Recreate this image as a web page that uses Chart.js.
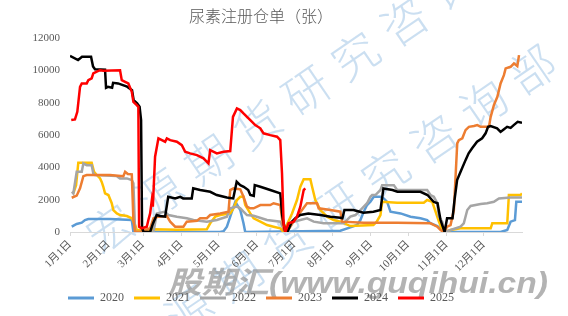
<!DOCTYPE html>
<html>
<head>
<meta charset="utf-8">
<script src="https://cdn.jsdelivr.net/npm/chart.js@4/dist/chart.umd.min.js"></script>
<style>
html,body{margin:0;padding:0;background:#fff;}
canvas{display:block;}
</style>
</head>
<body>
<canvas id="c" width="568" height="316"></canvas>
<script>
// ---- data (day of year, value) ----
const monthDays = [0, 31, 59, 90, 120, 151, 181, 212, 243, 273, 304, 334];
const monthLabels = ['1月1日','2月1日','3月1日','4月1日','5月1日','6月1日','7月1日','8月1日','9月1日','10月1日','11月1日','12月1日'];
const yTicks = [0, 2000, 4000, 6000, 8000, 10000, 12000];
const seriesNames = ['2020','2021','2022','2023','2024','2025'];

const d2020 = [1.4,5.4,9.5,12.1,14.8,32.3,49.9,51.2,121.3,124,126.7,129.4,132.1,133.5,137.5,140.1,141.5,218.3,226.4,231.8,234.5,237.2,239.9,242.6,245.3,250.7,253.4,256.1,258.8,266.9,275,283,288.4,291.1,296.6,299.2,301.9,347.7,353.1,355.8,359.3,360.4,365];
const v2020 = [330,500,580,740,800,800,740,0,0,50,330,950,1570,1870,1360,540,0,80,290,430,740,1260,1670,1870,2180,2180,2080,1870,1260,1150,950,850,740,540,370,200,0,0,120,640,740,1870,1870];

const d2021 = [2.7,4.9,6.7,17.5,19.4,21.6,24.3,25.6,26.9,28.3,31,33.7,35,37.8,40.4,45.9,49.9,52.6,53.9,62,67.4,86.3,110.5,113.2,117.3,121.3,129.4,132.1,134.8,137.5,140.1,141.5,145.6,148.3,153.7,159.1,164.4,169.8,172.5,179.3,183.3,186,188.7,194.1,195.5,198.1,202.2,207.6,212.9,218.3,226.4,245,247.7,250.7,252.1,264.2,285.7,288.4,292.5,295.2,297.9,300.6,301.9,307.3,315.4,339.7,341,353.1,354.4,363.9,365];
const v2021 = [2390,2900,4290,4290,3730,3530,3320,3100,2800,2390,2290,1780,1360,1150,1050,990,850,430,120,120,170,140,170,540,950,1050,1150,1470,1980,2180,2180,1670,1150,850,640,430,330,230,0,1150,1980,2800,3260,3260,2800,1980,1360,950,740,640,370,430,640,1050,1870,1810,1810,1980,1870,1260,640,120,0,120,230,230,540,540,2290,2290,2390];

const d2022 = [1.6,2.7,5.4,9.5,10.8,13.5,17.5,18.8,20.2,37.8,40.4,45.9,49.9,51.2,52.6,67.4,70.1,76.8,79.5,86.3,94.3,99.7,110.5,118.6,126.7,129.4,134.8,137.5,140.1,142.9,148.3,159.1,169.8,172.5,175.2,180.6,186,191.4,196.8,204.8,221,226.4,230.5,235.9,239.9,242.6,244,246.6,250.7,252.1,261.5,264.2,283,288.4,291.1,293.8,296.6,297.9,300.6,302.5,307.3,315.4,318,320.8,323.5,331.6,336.9,342.3,346.4,355.8,365];
const v2022 = [2500,2390,3730,3730,4250,4140,4140,3630,3530,3460,3320,3320,3220,3010,0,0,1150,1260,1050,950,850,740,640,740,950,1470,1570,1470,1260,1050,1000,740,640,200,0,640,740,850,640,540,540,950,1050,1470,1780,2180,2290,2290,2600,2900,2900,2600,2600,2600,2290,2180,1780,950,640,0,120,330,540,1360,1610,1730,1780,1870,2080,2140,2140];

const d2023 = [1.4,5.4,8.1,10.8,13.5,32.3,43.1,44.5,46.7,49.9,51.2,52.6,56.6,64.7,67.4,71.4,78.2,80.9,84.9,91.6,94.3,102.5,105.1,110.5,113.2,121.3,128,129.4,132.1,137.5,140.1,142.9,145.6,148.3,153.7,161.7,164.4,169.8,172.5,175.2,179.3,183.3,191.4,199.5,200.8,210.3,218.3,219.7,237.2,264.2,291.1,296.6,299.2,301.9,304.6,307.3,310,312.7,314,316.8,319.4,322.1,326.2,328.9,331.6,338.3,339.7,342.3,345.1,347.7,350.4,351.8,355.8,358.5,361.2,362.6];
const v2023 = [2120,2250,2700,3460,3530,3530,3460,3730,3590,3570,740,0,0,230,850,950,990,640,330,330,640,700,850,850,1050,1150,1260,2600,2700,2640,2180,1570,1470,1470,1670,1670,1780,1670,120,0,540,950,1780,1780,1470,1360,1260,640,580,580,540,330,120,0,330,430,1360,5490,5690,5800,6310,6510,6560,6620,6510,6510,7130,7860,8370,9200,9710,10130,10230,10440,10270,10950];

const d2024 = [0,6.5,9.7,17,18.6,20.2,28.3,29.1,30.7,34,34.8,38.8,46.1,50.1,51.4,54.2,56.2,57.4,58.2,59.4,64.7,67.1,70,72.8,76.8,79.3,84.9,89,91.4,98.3,99.5,105.1,113.2,118.5,126.6,131.8,134.6,137.5,140.3,143.9,145.6,148.4,149.2,153.7,161.7,169.8,171.4,173.8,175.5,179.1,182,186,192.5,202.2,210.3,218.3,220,221.6,228.9,236.9,245,250.7,253.1,260.4,264.4,283,288.7,293.6,296.8,299.2,302.5,304.5,308.9,310.5,312.6,315.4,319.4,321.9,324.7,328.7,332.8,335.6,337.6,339.7,344.9,347.7,350.2,353,355.8,358.3,361.5,365];
const v2024 = [10900,10650,10850,10850,10250,10080,10050,8930,8990,8930,9240,9200,9000,8780,8160,7960,7750,6930,250,0,0,550,1050,990,950,2180,2080,2180,2080,2080,2700,2600,2490,2290,2140,2080,3110,2900,2800,2600,2290,2230,2900,2800,2600,2390,1000,0,0,640,850,1050,1150,1050,950,880,850,1360,1360,1190,1260,1360,2700,2600,2490,2490,2290,1870,1780,740,0,850,850,1980,3220,3730,4450,4870,5180,5590,5800,6110,6510,6560,6420,6200,6350,6510,6450,6620,6820,6760];

const d2025 = [1,4,5.9,8.1,9.5,13.5,14.8,17.5,18.8,21.6,24.3,26.9,40.4,41.8,44.5,47.1,49.9,51.2,53.9,55.2,55.8,58,62,63.3,64.7,66.1,66.9,68.7,71.4,74.2,76.8,78.2,80.9,86.3,90.3,93,97,102.5,107.8,111.8,113.2,118.6,124,129.4,131.6,134.8,137.5,140.1,145.6,149.6,153.7,156.3,161.7,167.2,169.8,171.2,172.5,173.9,176.5,180.6,183.3,186,188.7,190];
const v2025 = [6930,6970,7440,8990,9200,9200,9400,9510,9820,9930,10020,9990,10020,9400,9300,9200,8680,8060,7860,7750,330,230,330,740,1150,1980,1570,4660,5800,5690,5590,5800,5690,5590,5380,4970,4870,4760,4560,4250,5070,4870,4970,5010,7130,7650,7550,7340,6930,6620,6420,6110,6000,5900,5690,3630,540,0,540,640,950,1570,2600,2700];

const seriesDays = [d2020, d2021, d2022, d2023, d2024, d2025];
const seriesVals = [v2020, v2021, v2022, v2023, v2024, v2025];
const colors = ['#5B9BD5', '#FFC000', '#A5A5A5', '#ED7D31', '#000000', '#FF0000'];

const SERIF = "'Liberation Serif', 'Times New Roman', 'DejaVu Serif', serif";

const datasets = seriesNames.map((name, i) => ({
  label: name,
  data: seriesDays[i].map((d, k) => ({x: d, y: seriesVals[i][k]})),
  borderColor: colors[i],
  backgroundColor: colors[i],
  borderWidth: 2.5,
  pointRadius: 0,
  tension: 0,
  order: seriesNames.length - i
}));

const watermark = {
  id: 'watermark',
  beforeDraw(chart) {
    const ctx = chart.ctx;
    ctx.save();
    // blue diagonal watermark
    ctx.fillStyle = 'rgba(160,196,230,0.55)';
    ctx.font = "300 46px 'Noto Sans CJK SC'";
    ctx.textAlign = 'center';
    ctx.textBaseline = 'middle';
    const wmText = '宏源期货研究咨询部';
    const lines = [[110, 228], [140, 345]];
    lines.forEach(([sx, sy]) => {
      for (let k = 0; k < wmText.length; k++) {
        ctx.save();
        ctx.translate(sx + k * 49, sy - k * 34.5);
        ctx.rotate(-0.6);
        ctx.fillText(wmText[k], 0, 0);
        ctx.restore();
      }
    });
    // gray watermark
    ctx.fillStyle = 'rgba(150,150,150,0.72)';
    ctx.font = "italic bold 30px 'Liberation Sans', 'Noto Sans CJK SC'";
    ctx.textAlign = 'left';
    ctx.textBaseline = 'alphabetic';
    const gt = '股期汇(www.guqihui.cn)';
    const w = ctx.measureText(gt).width;
    ctx.translate(168, 293);
    ctx.scale(380 / w, 1);
    ctx.fillText(gt, 0, 0);
    ctx.restore();
  }
};

new Chart(document.getElementById('c'), {
  type: 'line',
  data: { datasets },
  plugins: [watermark],
  options: {
    responsive: false,
    animation: false,
    layout: { padding: { left: 0, right: 46, top: 0, bottom: 2 } },
    plugins: {
      title: {
        display: true,
        text: '尿素注册仓单（张）',
        color: '#595959',
        font: { family: "'Noto Sans CJK SC'", size: 16, weight: '300' },
        padding: { top: 6, bottom: 13 }
      },
      legend: {
        position: 'bottom',
        labels: {
          boxWidth: 26,
          boxHeight: 3,
          padding: 10,
          color: '#595959',
          font: { family: SERIF, size: 12 },
          generateLabels(chart) {
            return Chart.defaults.plugins.legend.labels.generateLabels(chart)
              .map(l => Object.assign(l, { lineWidth: 0 }))
              .sort((a, b) => a.datasetIndex - b.datasetIndex);
          }
        }
      },
      tooltip: { enabled: false }
    },
    scales: {
      x: {
        type: 'linear',
        min: 0,
        max: 365,
        afterBuildTicks(axis) { axis.ticks = monthDays.map(v => ({ value: v })); },
        afterFit(scale) { scale.height = 50; },
        grid: { display: true, drawOnChartArea: false, drawTicks: true, tickLength: 4, color: '#d9d9d9' },
        border: { display: true, color: '#d9d9d9', width: 1 },
        ticks: {
          autoSkip: false,
          minRotation: 45,
          maxRotation: 45,
          padding: 2,
          color: '#595959',
          font: { family: SERIF + ", 'Noto Sans CJK SC'", size: 11 },
          callback(value) { const i = monthDays.indexOf(value); return i >= 0 ? monthLabels[i] : ''; }
        }
      },
      y: {
        min: 0,
        max: 12000,
        afterBuildTicks(axis) { axis.ticks = yTicks.map(v => ({ value: v })); },
        afterFit(scale) { scale.width = 70; },
        grid: { display: false, drawTicks: false },
        border: { display: false },
        ticks: {
          padding: 10,
          color: '#595959',
          font: { family: SERIF, size: 11 },
          callback(value) { return String(value); }
        }
      }
    }
  }
});
</script>
</body>
</html>
